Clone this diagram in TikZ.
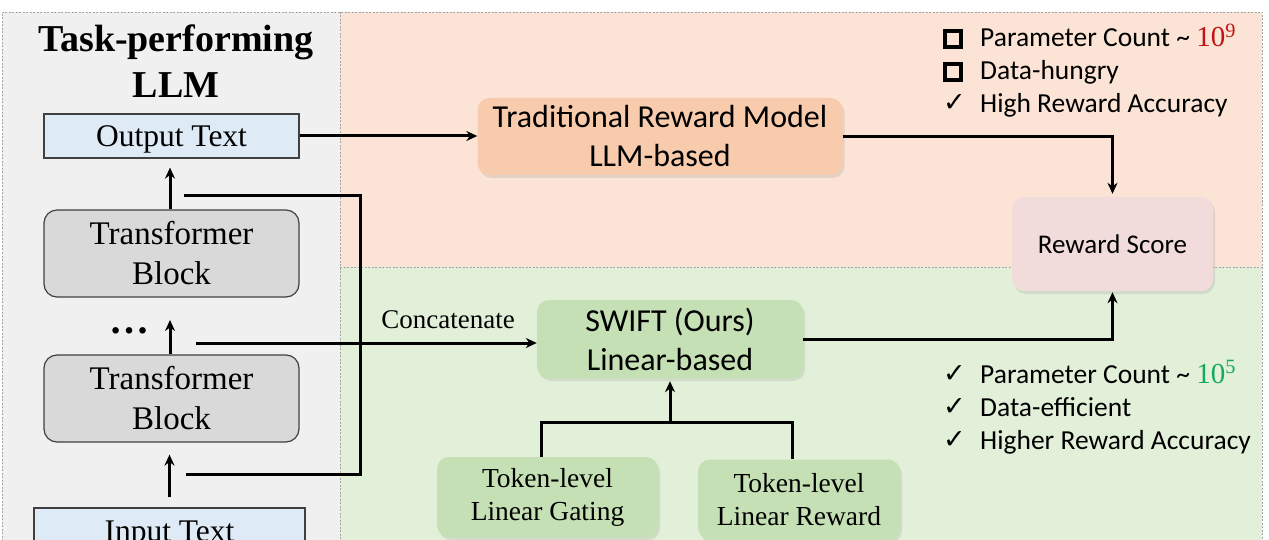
\documentclass[tikz,border=0pt]{standalone}
\usepackage{fontspec}
\setmainfont{Liberation Serif}
\newfontfamily\calib{Carlito}
\newfontfamily\djv{DejaVu Sans}
\usetikzlibrary{shadows,arrows.meta,calc}
\definecolor{panelgray}{RGB}{240,240,240}
\definecolor{panelorange}{RGB}{251,228,214}
\definecolor{panelgreen}{RGB}{226,240,217}
\definecolor{boxblue}{RGB}{222,235,247}
\definecolor{boxgray}{RGB}{217,217,217}
\definecolor{boxorange}{RGB}{248,203,173}
\definecolor{boxpink}{RGB}{242,220,219}
\definecolor{boxgreen}{RGB}{197,224,180}
\definecolor{edgegray}{RGB}{64,64,64}
\definecolor{dashgray}{RGB}{165,165,165}
\definecolor{numred}{RGB}{192,20,20}
\definecolor{numgreen}{RGB}{20,170,90}
\begin{document}
\begin{tikzpicture}[x=1pt,y=-1pt,
  panel/.style={draw=dashgray, line width=0.8pt, dash pattern=on 2pt off 1.5pt},
  plainbox/.style={draw=edgegray, line width=1.2pt, fill=boxblue, inner sep=0pt, text depth=0pt, font=\fontsize{31.5}{36}\selectfont},
  tfbox/.style={draw=edgegray, line width=1.2pt, fill=boxgray, rounded corners=13pt, minimum width=255pt, minimum height=87pt, inner sep=0pt, align=center, font=\fontsize{33}{40}\selectfont},
  softbox/.style={rounded corners=12pt, inner sep=0pt, align=center, drop shadow={opacity=0.18, shadow xshift=2pt, shadow yshift=-3pt}},
  sansbig/.style={font=\calib\fontsize{32}{39}\selectfont},
  tokbox/.style={softbox, fill=boxgreen, minimum height=80pt, font=\fontsize{27.5}{33}\selectfont},
  conn/.style={line width=3pt, draw=black},
  arr/.style={conn, -{Stealth[length=11pt,width=10pt]}},
  listtxt/.style={font=\calib\fontsize{27.5}{30}\selectfont, inner sep=0pt, anchor=base west},
  sqmark/.style={draw=black, line width=4pt, minimum size=16pt, inner sep=0pt},
  chkmark/.style={font=\djv\fontsize{27}{30}\selectfont, inner sep=0pt, anchor=base west}
]
\useasboundingbox (0,0) rectangle (1269,540);
% panels
\fill[panelgray] (2,12) rectangle (340,548);
\fill[panelorange] (340,12) rectangle (1262,267);
\fill[panelgreen] (340,267) rectangle (1262,548);
\draw[panel] (2,548) -- (2,12) -- (1262,12) -- (1262,548);
\draw[panel] (340,12) -- (340,548);
\draw[panel] (340,267) -- (1262,267);

% left column
\node[font=\bfseries\fontsize{38}{46}\selectfont, align=center] (title) at (176,61) {Task-performing\\LLM};
\node[plainbox, minimum width=255pt, minimum height=44pt] (out) at (171.5,136) {Output Text};
\node[tfbox] (tb1) at (171.5,253.5) {Transformer\\Block};
\node[tfbox] (tb2) at (171.5,398.5) {Transformer\\Block};
\node[font=\bfseries\fontsize{40}{40}\selectfont, inner sep=0pt, anchor=base] (dots) at (129,333) {…};
\node[plainbox, minimum width=271pt, minimum height=46pt] (inp) at (169.5,531) {Input Text};
\coordinate (dotsarr) at (170,320);

\draw[arr, shorten >=9pt] (tb1.north -| 170,0) -- (out.south -| 170,0);
\draw[arr] (tb2.north -| 170,0) -- (dotsarr);
\draw[arr, shorten <=10pt, shorten >=12pt] (inp.north) -- (tb2.south -| inp.north);

% taps
\coordinate (tapA) at (184,196);
\coordinate (tapB) at (186,474);
\coordinate (tapC) at (196,343);
\coordinate (j1) at (360,196);
\coordinate (j2) at (360,474);
\draw[conn, line join=miter] (tapA) -- (j1) -- (j2) -- (tapB);

% reward models
\node[softbox, fill=boxorange, minimum width=365pt, minimum height=77pt, sansbig] (trad) at (660,136.5) {Traditional Reward Model\\LLM-based};
\node[softbox, fill=boxpink, minimum width=201pt, minimum height=94pt, font=\calib\fontsize{27}{32}\selectfont] (rs) at (1112.5,244) {Reward Score};
\node[softbox, fill=boxgreen, minimum width=266pt, minimum height=78pt, sansbig] (swift) at (670,339) {SWIFT (Ours)\\Linear-based};
\node[tokbox, minimum width=221pt] (gate) at (547.5,497) {Token-level\\Linear Gating};
\node[tokbox, minimum width=202pt] (rtok) at (799,499.5) {Token-level\\Linear Reward};

\node[font=\fontsize{27}{30}\selectfont, inner sep=0pt, anchor=base] (concat) at (448,328) {Concatenate};

\draw[arr] (out.east) -- (trad.west |- out.east);
\draw[arr] (tapC) -- (tapC -| swift.west);
\draw[arr, shorten >=3pt] (trad.east) -| (rs.north);
\draw[arr, shorten >=1pt] (swift.east) -| (rs.south);

\coordinate (g1) at (541,422);
\coordinate (g2) at (792,422);
\draw[conn, line join=miter] (gate.north -| g1) -- (g1) -- (g2) -- (rtok.north -| g2);
\draw[arr, shorten >=3pt] (swift.south |- g1) -- (swift.south);

% lists
\node[sqmark] (s1) at (953,39) {};
\node[sqmark] (s2) at (953,72) {};
\node[chkmark] (c1) at (943,112) {✓};
\node[listtxt] (l1) at (980,47) {Parameter Count \textasciitilde{} {\rmfamily\color{numred}\fontsize{29}{30}\selectfont 10\textsuperscript{9}}};
\node[listtxt] (l2) at (980,80) {Data-hungry};
\node[listtxt] (l3) at (980,113) {High Reward Accuracy};

\node[chkmark] (c4) at (943,382) {✓};
\node[chkmark] (c5) at (943,415) {✓};
\node[chkmark] (c6) at (943,448) {✓};
\node[listtxt] (l4) at (980,383) {Parameter Count \textasciitilde{} {\rmfamily\color{numgreen}\fontsize{29}{30}\selectfont 10\textsuperscript{5}}};
\node[listtxt] (l5) at (980,416) {Data-efficient};
\node[listtxt] (l6) at (980,449) {Higher Reward Accuracy};
\end{tikzpicture}
\end{document}
